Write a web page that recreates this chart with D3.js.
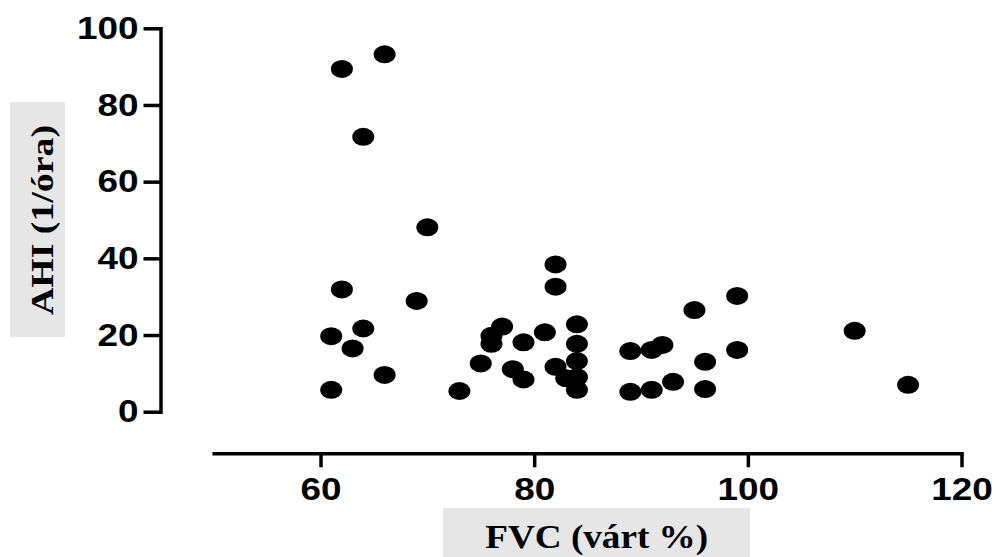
<!DOCTYPE html>
<html>
<head>
<meta charset="utf-8">
<script src="https://cdn.jsdelivr.net/npm/d3@7"></script>
<style>
  html, body { margin: 0; padding: 0; background: #fff; }
  svg { display: block; }
</style>
</head>
<body>
<svg id="chart" width="997" height="557"></svg>
<script>
// FVC (várt %) values
const fvc = [62, 66, 64, 70, 69, 62, 61, 64, 63, 66, 61,
             82, 82, 77, 76, 76, 79, 81, 75, 78, 79, 82, 83, 73,
             84, 84, 84, 84, 84,
             89, 91, 92, 89, 91, 93,
             99, 95, 99, 96, 96, 110, 115];
// AHI (1/óra) values
const ahi = [89.4, 93.2, 71.7, 48.1, 28.9, 31.9, 19.7, 21.7, 16.5, 9.6, 5.7,
             38.4, 32.6, 22.2, 19.8, 17.7, 18.1, 20.7, 12.6, 11.1, 8.4, 11.7, 8.7, 5.4,
             22.8, 17.7, 13.2, 9.0, 5.7,
             15.8, 16.1, 17.4, 5.2, 5.7, 7.8,
             30.2, 26.5, 16.1, 13.0, 5.9, 21.1, 7.0];
const xTicks = [60, 80, 100, 120];
const yTicks = [0, 20, 40, 60, 80, 100];
const xLabel = "FVC (várt %)";
const yLabel = "AHI (1/óra)";

const svg = d3.select("#chart");
const x = d3.scaleLinear().domain([50, 120]).range([213.7, 961.5]);
const y = d3.scaleLinear().domain([0, 100]).range([411.7, 28.3]);

const tickFont = "'Liberation Sans', Arial, sans-serif";
const serif = "'Liberation Serif', 'Times New Roman', serif";

// Label boxes
svg.append("rect").attr("x", 10).attr("y", 102).attr("width", 55).attr("height", 235).attr("fill", "#e6e6e6");
svg.append("rect").attr("x", 443).attr("y", 508).attr("width", 307).attr("height", 60).attr("fill", "#e6e6e6");

// Y axis
const gy = svg.append("g").attr("transform", "translate(160.5,0)")
  .call(d3.axisLeft(y).tickValues(yTicks).tickSize(17).tickSizeOuter(0).tickPadding(5));
// X axis
const gx = svg.append("g").attr("transform", "translate(0,453.3)")
  .call(d3.axisBottom(x).tickValues(xTicks).tickSize(14).tickSizeOuter(0).tickPadding(10));

[gy, gx].forEach(g => {
  g.select(".domain").attr("stroke", "#000").attr("stroke-width", 3.5).attr("stroke-linecap", "square");
  g.selectAll(".tick line").attr("stroke", "#000").attr("stroke-width", 3.5);
  g.selectAll(".tick text")
    .attr("fill", "#000")
    .style("font-family", tickFont)
    .style("font-weight", "bold")
    .style("font-size", "32px")
    .attr("textLength", d => String(d).length * 20.5)
    .attr("lengthAdjust", "spacingAndGlyphs");
});

// Points
svg.append("g").selectAll("ellipse")
  .data(fvc.map((v, i) => [v, ahi[i]]))
  .join("ellipse")
  .attr("cx", d => x(d[0]))
  .attr("cy", d => y(d[1]))
  .attr("rx", 11)
  .attr("ry", 9)
  .attr("fill", "#000");

// Axis titles
svg.append("text")
  .attr("x", 596.7).attr("y", 548)
  .attr("text-anchor", "middle")
  .style("font-family", serif).style("font-weight", "bold").style("font-size", "33px")
  .attr("textLength", 223).attr("lengthAdjust", "spacingAndGlyphs")
  .attr("fill", "#000")
  .text(xLabel);

svg.append("text")
  .attr("transform", "translate(52.5,220) rotate(-90)")
  .attr("text-anchor", "middle")
  .style("font-family", serif).style("font-weight", "bold").style("font-size", "32px")
  .attr("textLength", 190).attr("lengthAdjust", "spacingAndGlyphs")
  .attr("fill", "#000")
  .text(yLabel);
</script>
</body>
</html>
